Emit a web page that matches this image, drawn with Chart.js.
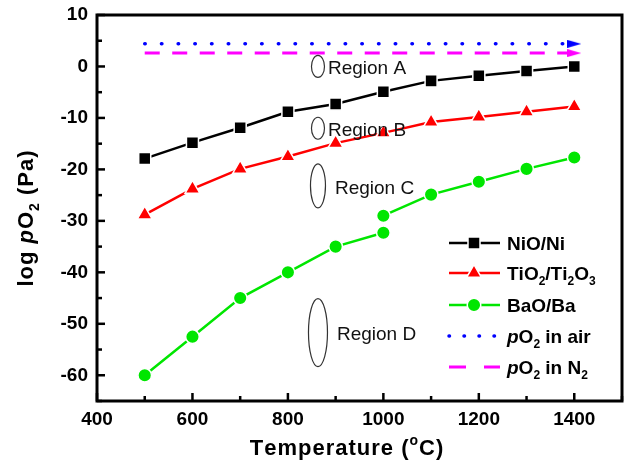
<!DOCTYPE html>
<html>
<head>
<meta charset="utf-8">
<script src="https://cdn.jsdelivr.net/npm/chart.js@4.4.1/dist/chart.umd.min.js"></script>
<style>
  html, body { margin: 0; padding: 0; background: #fff; }
  #wrap { width: 625px; height: 462px; }
</style>
</head>
<body>
<div id="wrap"><canvas id="chart" width="625" height="462"></canvas></div>
<script>
/* ---------------- DATA ---------------- */
const temps = [500, 600, 700, 800, 900, 1000, 1100, 1200, 1300, 1400];
const nioValues = [-17.9, -14.8, -11.9, -8.8, -7.3, -4.9, -2.8, -1.8, -0.9, 0];
const tioValues = [-28.8, -23.8, -19.9, -17.5, -14.9, -12.9, -10.8, -9.8, -8.8, -7.8];
const baoTemps = [500, 600, 700, 800, 900, 1000, 1000, 1100, 1200, 1300, 1400];
const baoValues = [-60, -52.5, -45, -40, -35, -32.3, -29, -24.9, -22.4, -19.9, -17.7];
const refTemps = [500, 1400];
const airValue = 4.4;
const n2Value = 2.6;

const seriesLabels = ["NiO/Ni", "TiO_2/Ti_2O_3", "BaO/Ba", "*p*O_2 in air", "*p*O_2 in N_2"];
const xTitle = "Temperature (^oC)";
const yTitle = "log *p*O_2 (Pa)";

const regionNames = ["Region A", "Region B", "Region C", "Region D"];
const regionTemps = [863, 863, 863, 863];
const regionLogP = [0, -12, -23.2, -51.7];

/* ---------------- HELPERS ---------------- */
const FONT = "'Liberation Sans', Arial, Helvetica, sans-serif";
const GREEN = "#00e600";
const plain = s => s.replace(/[*_^]/g, "");

function richParts(str) {
  const parts = [];
  let italic = false;
  for (let i = 0; i < str.length; i++) {
    const c = str[i];
    if (c === "*") { italic = !italic; continue; }
    if (c === "_" || c === "^") { parts.push({ t: str[i + 1], italic, mode: c }); i++; continue; }
    parts.push({ t: c, italic, mode: "" });
  }
  return parts;
}

// y = vertical centre of the capitals
function drawRich(ctx, str, x, y, size, weight, align, spacing) {
  const parts = richParts(str);
  const fontFor = p => `${p.italic ? "italic " : ""}${weight} ${p.mode ? Math.round(size * 0.62) : size}px ${FONT}`;
  let total = 0;
  parts.forEach(p => {
    ctx.font = fontFor(p);
    p.w = ctx.measureText(p.t).width + (spacing || 0);
    total += p.w;
  });
  let cx = align === "center" ? x - total / 2 : x;
  const base = y + size * 0.36;
  ctx.textAlign = "left";
  ctx.textBaseline = "alphabetic";
  parts.forEach(p => {
    ctx.font = fontFor(p);
    let by = base;
    if (p.mode === "_") by = base + size * 0.28;
    if (p.mode === "^") by = base - size * 0.45;
    ctx.fillText(p.t, cx, by);
    cx += p.w;
  });
}

function makeArrow(color) {
  const c = document.createElement("canvas");
  c.width = 14;
  c.height = 8;
  const g = c.getContext("2d");
  g.fillStyle = color;
  g.beginPath();
  g.moveTo(0, 0);
  g.lineTo(14, 4);
  g.lineTo(0, 8);
  g.closePath();
  g.fill();
  return c;
}

const pts = (xs, ys) => xs.map((x, i) => ({ x, y: ys[i] }));
const lastOnly = r => ctx => ctx.dataIndex === ctx.dataset.data.length - 1 ? r : 0;

/* ---------------- DATASETS ---------------- */
const datasets = [
  {
    label: plain(seriesLabels[0]), data: pts(temps, nioValues),
    borderColor: "#000", backgroundColor: "#000", borderWidth: 2.5,
    pointStyle: "rect", pointRadius: 8.5, pointBorderColor: "#fff", pointBorderWidth: 1.5
  },
  {
    label: plain(seriesLabels[1]), data: pts(temps, tioValues),
    borderColor: "#ff0000", backgroundColor: "#ff0000", borderWidth: 2.5,
    pointStyle: "triangle", pointRadius: 8.5, pointBorderColor: "#fff", pointBorderWidth: 1.5
  },
  {
    label: plain(seriesLabels[2]), data: pts(baoTemps, baoValues),
    borderColor: GREEN, backgroundColor: GREEN, borderWidth: 2.5,
    pointStyle: "circle", pointRadius: 6.8, pointBorderColor: "#fff", pointBorderWidth: 1.5,
    segment: { borderColor: c => c.p0.parsed.x === c.p1.parsed.x ? "rgba(0,0,0,0)" : GREEN }
  },
  {
    label: plain(seriesLabels[3]), data: pts(refTemps, refTemps.map(() => airValue)),
    borderColor: "#0000ff", backgroundColor: "#0000ff", borderWidth: 3.5,
    borderDash: [0.5, 16.2], borderCapStyle: "round",
    pointStyle: makeArrow("#0000ff"), pointRadius: lastOnly(5)
  },
  {
    label: plain(seriesLabels[4]), data: pts(refTemps, refTemps.map(() => n2Value)),
    borderColor: "#ff00ff", backgroundColor: "#ff00ff", borderWidth: 3,
    borderDash: [15, 12.5],
    pointStyle: makeArrow("#ff00ff"), pointRadius: lastOnly(5)
  }
];

/* ---------------- PLUGIN: frame, ticks, titles, legend, regions ---------------- */
const decor = {
  id: "decor",
  afterDraw(chart) {
    const { ctx, chartArea: a, scales: { x, y } } = chart;
    ctx.save();

    // inward ticks
    ctx.strokeStyle = "#000";
    ctx.lineWidth = 2.5;
    x.ticks.forEach(t => {
      const px = x.getPixelForValue(t.value);
      const len = t.value % 200 === 0 ? 8 : 5;
      ctx.beginPath(); ctx.moveTo(px, a.bottom); ctx.lineTo(px, a.bottom - len); ctx.stroke();
    });
    y.ticks.forEach(t => {
      const py = y.getPixelForValue(t.value);
      const len = t.value % 10 === 0 ? 8 : 5;
      ctx.beginPath(); ctx.moveTo(a.left, py); ctx.lineTo(a.left + len, py); ctx.stroke();
    });

    // frame
    ctx.lineWidth = 3;
    ctx.strokeRect(a.left, a.top, a.right - a.left, a.bottom - a.top);

    // axis titles
    ctx.fillStyle = "#000";
    drawRich(ctx, xTitle, 347, 447, 22, "bold", "center", 1);
    ctx.save();
    ctx.translate(25, 218);
    ctx.rotate(-Math.PI / 2);
    drawRich(ctx, yTitle, 0, 0, 22, "bold", "center", 1);
    ctx.restore();

    // region labels
    const radii = [[6.5, 11], [6.5, 11], [7.5, 22], [9.5, 34]];
    const gaps = [10, 10, 17, 19];
    ctx.strokeStyle = "#333";
    ctx.lineWidth = 1.2;
    regionNames.forEach((name, i) => {
      const px = x.getPixelForValue(regionTemps[i]);
      const py = y.getPixelForValue(regionLogP[i]);
      ctx.beginPath();
      ctx.ellipse(px, py, radii[i][0], radii[i][1], 0, 0, Math.PI * 2);
      ctx.stroke();
      ctx.fillStyle = "#111";
      drawRich(ctx, name, px + gaps[i], py + 1, 19, "normal", "left", 0);
    });

    // legend
    const rows = [243, 273, 305, 336, 367];
    chart.data.datasets.forEach((ds, i) => {
      const ry = rows[i];
      ctx.strokeStyle = ds.borderColor;
      ctx.fillStyle = ds.backgroundColor;
      ctx.lineWidth = ds.borderWidth;
      ctx.lineCap = ds.borderCapStyle || "butt";
      if (i === 3) ctx.setLineDash([0.5, 14.5]);
      else if (i === 4) ctx.setLineDash([17, 18]);
      else ctx.setLineDash([]);
      ctx.beginPath(); ctx.moveTo(449, ry); ctx.lineTo(500, ry); ctx.stroke();
      ctx.setLineDash([]);
      ctx.lineCap = "butt";
      if (i < 3) {
        ctx.strokeStyle = "#fff";
        ctx.lineWidth = ds.pointBorderWidth;
        Chart.helpers.drawPoint(ctx, {
          pointStyle: ds.pointStyle, rotation: 0, radius: ds.pointRadius, borderWidth: ds.pointBorderWidth
        }, 474, ry);
      }
      ctx.fillStyle = "#000";
      drawRich(ctx, seriesLabels[i], 507, ry, 19, "bold", "left", 0);
    });

    ctx.restore();
  }
};

/* ---------------- CHART ---------------- */
const tickFont = { family: FONT, size: 19, weight: "bold" };

new Chart(document.getElementById("chart"), {
  type: "scatter",
  data: { datasets: datasets.map(d => ({ showLine: true, fill: false, tension: 0, ...d })) },
  options: {
    responsive: false,
    animation: false,
    events: [],
    layout: { autoPadding: false, padding: { top: 15, right: 3, left: 0, bottom: 0 } },
    plugins: { legend: { display: false }, tooltip: { enabled: false } },
    scales: {
      x: {
        type: "linear", min: 400, max: 1500,
        grid: { display: false, drawTicks: true, tickLength: 7 },
        border: { display: false },
        ticks: {
          stepSize: 100, autoSkip: false, maxRotation: 0, padding: 0,
          color: "#000", font: tickFont,
          callback: v => (v % 200 === 0 && v < 1500 ? v : "")
        },
        afterFit: s => { s.height = 61; s.paddingLeft = 0; s.paddingRight = 0; }
      },
      y: {
        type: "linear", min: -65, max: 10,
        grid: { display: false, drawTicks: false },
        border: { display: false },
        ticks: {
          stepSize: 5, autoSkip: false, padding: 9,
          color: "#000", font: tickFont,
          callback: v => (v % 10 === 0 ? v : "")
        },
        afterFit: s => { s.width = 97; s.paddingTop = 0; s.paddingBottom = 0; }
      }
    }
  },
  plugins: [decor]
});
</script>
</body>
</html>
